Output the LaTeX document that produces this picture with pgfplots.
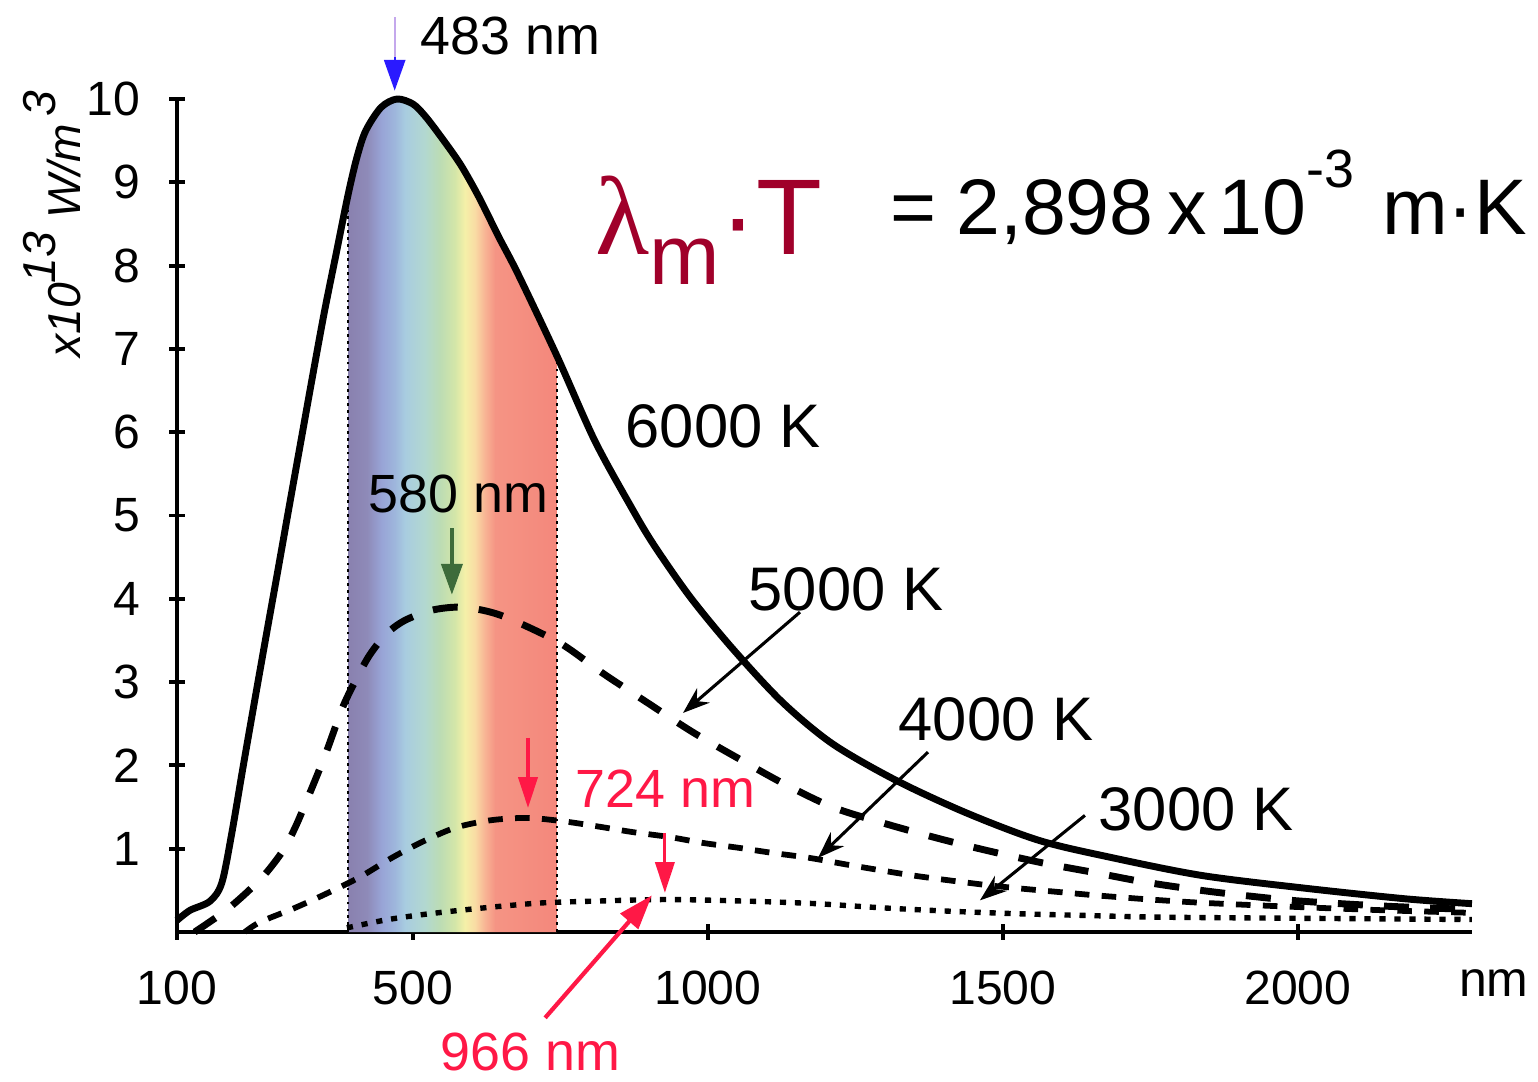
\documentclass[border=0pt]{standalone}
\usepackage{pgfplots}
\pgfplotsset{compat=1.18}
\usepackage{fontspec}
\setmainfont{Liberation Sans}
\newfontfamily\seriffont{Liberation Serif}
\usetikzlibrary{arrows.meta}
\definecolor{s1}{HTML}{8A82B0}
\definecolor{s2}{HTML}{8E8AB8}
\definecolor{s3}{HTML}{98A4D6}
\definecolor{s4}{HTML}{9EB6DC}
\definecolor{s5}{HTML}{A8CCE0}
\definecolor{s6}{HTML}{B2D8D0}
\definecolor{s7}{HTML}{BCDCB4}
\definecolor{s8}{HTML}{D4E6A8}
\definecolor{s9}{HTML}{F5F0A8}
\definecolor{s10}{HTML}{F9DCA4}
\definecolor{s11}{HTML}{F8B494}
\definecolor{s12}{HTML}{F59484}
\definecolor{s13}{HTML}{F4887C}
\definecolor{darkred}{HTML}{A0002A}
\definecolor{lblred}{HTML}{FF1846}
\definecolor{arrblue}{HTML}{2A1AFF}
\definecolor{arrlav}{HTML}{C4A8EC}
\definecolor{arrgreen}{HTML}{3D6B3A}
\pgfdeclarehorizontalshading{spectrum}{100bp}{color(0bp)=(s1); color(25.5bp)=(s1); color(29.5bp)=(s2); color(33bp)=(s3); color(36.2bp)=(s4); color(38.6bp)=(s5); color(43.4bp)=(s6); color(47bp)=(s7); color(50.6bp)=(s8); color(53bp)=(s9); color(55.4bp)=(s10); color(57.8bp)=(s11); color(60.2bp)=(s12); color(74.5bp)=(s13); color(100bp)=(s13)}

\pgfplotstableread{
x y
100 0.14
122 0.26
156 0.37
176 0.59
193 1.19
212 1.98
232 2.79
252 3.59
270 4.30
290 5.10
310 5.89
330 6.68
350 7.45
370 8.15
390 8.85
405 9.30
420 9.62
446 9.90
473 10.00
500 9.94
520 9.80
544 9.58
580 9.22
612 8.82
645 8.35
678 7.90
745 6.90
808 5.90
870 5.10
908 4.65
970 4.02
1042 3.40
1126 2.76
1211 2.26
1319 1.82
1438 1.43
1561 1.10
1680 0.90
1836 0.68
2007 0.53
2180 0.40
2295 0.34
}\tsixk

\pgfplotstableread{
x y
130 0.00
151 0.10
185 0.27
219 0.48
250 0.70
280 0.98
300 1.25
320 1.58
351 2.12
381 2.70
405 3.05
427 3.33
455 3.58
486 3.74
530 3.86
575 3.90
620 3.86
664 3.76
749 3.47
821 3.11
898 2.75
974 2.40
1050 2.09
1126 1.79
1211 1.50
1296 1.31
1387 1.13
1472 0.98
1567 0.83
1658 0.71
1740 0.60
1836 0.50
1920 0.43
2007 0.37
2150 0.31
2295 0.27
}\tfivek

\pgfplotstableread{
x y
215 0.00
241 0.12
300 0.29
356 0.47
410 0.66
464 0.89
515 1.08
571 1.25
630 1.34
693 1.37
754 1.33
811 1.27
872 1.20
935 1.14
991 1.07
1053 1.01
1109 0.95
1172 0.89
1235 0.81
1285 0.75
1346 0.68
1409 0.62
1477 0.56
1533 0.52
1595 0.48
1658 0.44
1750 0.39
1840 0.35
2000 0.30
2150 0.26
2295 0.23
}\tfourk

\pgfplotstableread{
x y
388 0.05
450 0.14
506 0.20
579 0.26
650 0.31
720 0.35
804 0.37
930 0.39
1070 0.37
1184 0.34
1296 0.29
1409 0.25
1523 0.22
1634 0.20
1750 0.18
1900 0.17
2100 0.16
2295 0.15
}\tthreek

\begin{document}
\begin{tikzpicture}
\begin{axis}[
  at={(0,0)}, anchor=south west,
  scale only axis, width=336.8pt, height=216.65pt,
  xmin=100, xmax=2295, ymin=0, ymax=10,
  axis lines=left,
  axis line style={-, line width=1.2pt, black},
  xtick={100,500,1000,1500,2000},
  xticklabels={100,500,1000,1500,2000},
  ytick={1,2,3,4,5,6,7,8,9,10},
  yticklabels={1,2,3,4,5,6,7,8,9,10},
  tick align=center,
  major tick length=4pt,
  tick style={black, line width=1pt},
  /pgf/number format/assume math mode=true,
  ticklabel style={font=\fontsize{12.5}{12.5}\selectfont},
  xticklabel style={anchor=base, yshift=-16.9pt},
  yticklabel style={anchor=east, xshift=-4pt},
  clip=false,
]
% visible spectrum band
\addplot[draw=none, shade, shading=spectrum] coordinates {
(390,0) (390,8.85) (405,9.30) (420,9.62) (446,9.90) (473,10.00) (500,9.94) (520,9.80) (544,9.58) (580,9.22) (612,8.82) (645,8.35) (678,7.90) (744,6.90) (744,0)} -- cycle;
\addplot[black, line width=0.7pt, dash pattern=on 0.7pt off 1.1pt] coordinates {(390,0) (390,8.85)};
\addplot[black, line width=0.7pt, dash pattern=on 0.7pt off 1.1pt] coordinates {(744,0) (744,6.9)};

% curves
\addplot[black, line width=1.4pt, dash pattern=on 1.6pt off 2.3pt, smooth, tension=0.5] table[x=x,y=y] {\tthreek};
\addplot[black, line width=1.5pt, dash pattern=on 3.8pt off 3.2pt, smooth, tension=0.5] table[x=x,y=y] {\tfourk};
\addplot[black, line width=1.8pt, dash pattern=on 6.5pt off 5.5pt, smooth, tension=0.5] table[x=x,y=y] {\tfivek};
\addplot[black, line width=1.8pt, smooth, tension=0.5] table[x=x,y=y] {\tsixk};

% arrows
\draw[arrlav, line width=0.5pt] (axis cs:469,10.98) -- (axis cs:469,10.45);
\draw[arrblue, line width=0.6pt, -{Triangle[length=8pt,width=5.5pt]}] (axis cs:469,10.5) -- (axis cs:469,10.1);
\draw[arrgreen, line width=0.9pt, -{Triangle[length=8pt,width=5.5pt]}] (axis cs:566,4.85) -- (axis cs:566,4.05);
\draw[lblred, line width=0.8pt, -{Triangle[length=8pt,width=5pt]}] (axis cs:695,2.33) -- (axis cs:695,1.49);
\draw[lblred, line width=0.8pt, -{Triangle[length=8pt,width=5pt]}] (axis cs:927,1.19) -- (axis cs:927,0.47);
\draw[lblred, line width=1.1pt, -{Triangle[length=9pt,width=6pt]}] (axis cs:724,-1.03) -- (axis cs:905,0.44);
\draw[black, line width=0.8pt, -{Stealth[length=7pt,width=5pt]}] (axis cs:1156,3.84) -- (axis cs:957.7,2.63);
\draw[black, line width=0.8pt, -{Stealth[length=7pt,width=5pt]}] (axis cs:1373,2.16) -- (axis cs:1186.5,0.89);
\draw[black, line width=0.8pt, -{Stealth[length=7pt,width=5pt]}] (axis cs:1639,1.40) -- (axis cs:1461,0.38);
\end{axis}

% texts (axis box south west at origin)
\node[anchor=base, font=\fontsize{13}{13}\selectfont] at (342.5pt,-16.9pt) {nm};
\node[rotate=90, anchor=base, font=\itshape\fontsize{12}{12}\selectfont] at (-25.2pt,184.1pt)
  {x10\raisebox{6.5pt}{13} W/m\,\raisebox{6.5pt}{3}};
\node[anchor=base west, inner sep=0pt, font=\fontsize{14}{14}\selectfont] at (63.2pt,228.1pt) {483 nm};
\node[anchor=base west, inner sep=0pt, font=\fontsize{14}{14}\selectfont] at (49.7pt,109.2pt) {580 nm};
\node[anchor=base west, inner sep=0pt, text=lblred, font=\fontsize{14}{14}\selectfont] at (103.5pt,32.3pt) {724 nm};
\node[anchor=base west, inner sep=0pt, text=lblred, font=\fontsize{14}{14}\selectfont] at (68.4pt,-35.9pt) {966 nm};
\node[anchor=base west, inner sep=0pt, font=\fontsize{16}{16}\selectfont] at (116.5pt,126.1pt) {6000 K};
\node[anchor=base west, inner sep=0pt, font=\fontsize{16}{16}\selectfont] at (148.5pt,83.7pt) {5000 K};
\node[anchor=base west, inner sep=0pt, font=\fontsize{16}{16}\selectfont] at (187.5pt,49.9pt) {4000 K};
\node[anchor=base west, inner sep=0pt, font=\fontsize{16}{16}\selectfont] at (239.5pt,26.5pt) {3000 K};
\node[anchor=base west, inner sep=0pt, text=darkred] at (108.7pt,176.1pt)
  {{\seriffont\fontsize{29}{29}\selectfont λ}\raisebox{-7.8pt}{\fontsize{22}{22}\selectfont m}{\fontsize{28}{28}\selectfont ·T}};
\node[anchor=base west, inner sep=0pt, font=\fontsize{20.5}{20.5}\selectfont] at (185.4pt,181.3pt)
  {=\hspace{0.25em}2,898\hspace{0.18em}x\hspace{0.15em}10\raisebox{0.6em}{\fontsize{14}{14}\selectfont -3}\hspace{0.35em}m·K};

\pgfresetboundingbox
\path[use as bounding box] (-46.03pt,-38.75pt) rectangle (353.97pt,242.40pt);
\end{tikzpicture}
\end{document}
